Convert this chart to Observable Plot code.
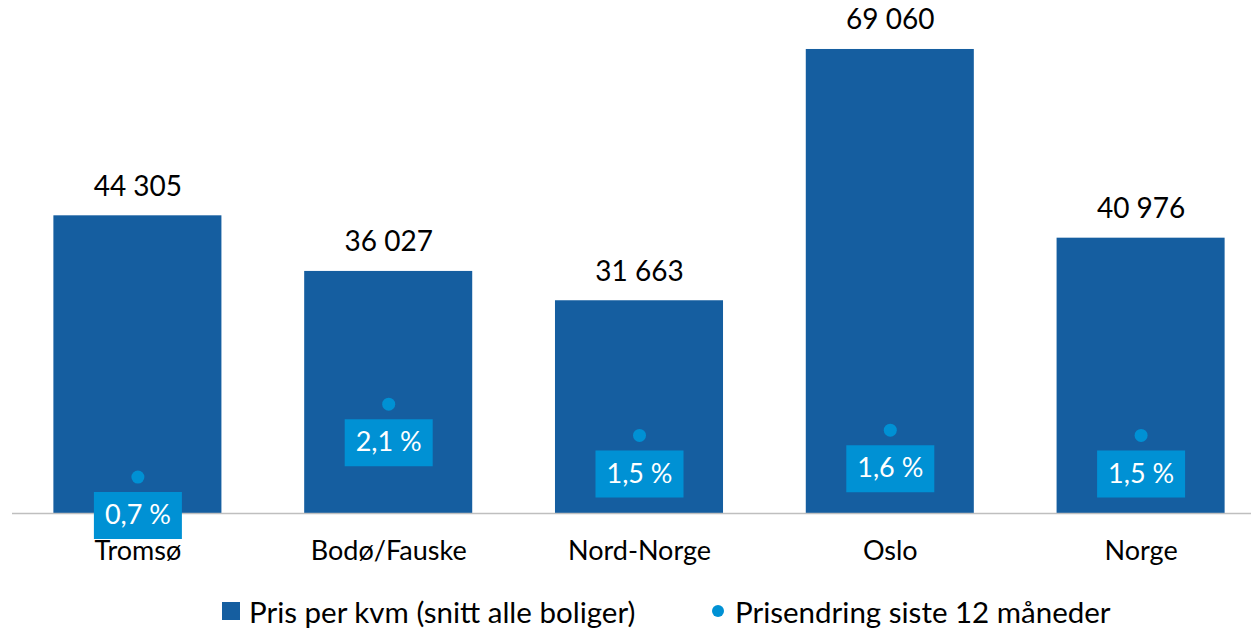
<!DOCTYPE html>
<html>
<head>
<meta charset="utf-8">
<script src="https://cdn.jsdelivr.net/npm/d3@7"></script>
<script src="https://cdn.jsdelivr.net/npm/@observablehq/plot@0.6"></script>
<style>
  html, body { margin: 0; padding: 0; background: #fff; overflow: hidden; }
  body { width: 1251px; height: 632px; font-family: Lato, "Noto Sans", sans-serif; }
  #legend { position: relative; height: 42px; font-size: 29.5px; color: #000; }
  .item { position: absolute; top: 0; height: 42px; display: flex; align-items: center; white-space: nowrap; }
  .sw-sq { width: 18px; height: 18px; background: #155EA0; margin-right: 9px; }
  .sw-dot { width: 12px; height: 12px; border-radius: 50%; background: #0091D4; margin-right: 11px; }
</style>
</head>
<body>
<div id="chart"></div>
<div id="legend">
  <div class="item" style="left:222px"><span class="sw-sq"></span><span>Pris per kvm (snitt alle boliger)</span></div>
  <div class="item" style="left:712px"><span class="sw-dot"></span><span>Prisendring siste 12 måneder</span></div>
</div>
<script>
const categories = ["Tromsø", "Bodø/Fauske", "Nord-Norge", "Oslo", "Norge"];
const prices = [44305, 36027, 31663, 69060, 40976];
const changes = [0.7, 2.1, 1.5, 1.6, 1.5];

const priceAxisMax = 76350;   // primary axis top
const changeAxisMax = 9.85;   // secondary axis top (%)

const nb = d3.formatLocale({decimal: ",", thousands: " ", grouping: [3], currency: ["", " kr"]});
const fmtPrice = nb.format(",d");
const fmtPct = v => nb.format(".1f")(v) + " %";

const data = categories.map((c, i) => ({
  cat: c,
  price: prices[i],
  change: changes[i],
  changeY: changes[i] / changeAxisMax * priceAxisMax
}));

const boxSymbol = { draw(ctx) { ctx.rect(-44, -23.5, 88, 47); } };

const barColor = "#155EA0";
const dotColor = "#0091D4";
const font = "Lato, 'Noto Sans', sans-serif";

const chart = Plot.plot({
  width: 1251,
  height: 590,
  marginTop: 0,
  marginBottom: 77,
  marginLeft: 12,
  marginRight: 0,
  style: { fontFamily: font, background: "white", overflow: "visible" },
  x: { domain: categories, range: [12, 1266], paddingInner: 0.33, paddingOuter: 0.165, round: false, axis: null },
  y: { domain: [0, priceAxisMax], axis: null },
  marks: [
    Plot.barY(data, { x: "cat", y: "price", fill: barColor }),
    Plot.ruleY([0], { stroke: "#BFBFBF", strokeWidth: 1.5 }),
    Plot.text(data, { x: "cat", y: "price", text: d => fmtPrice(d.price), dy: -29, fontSize: 28, fill: "#000", lineAnchor: "middle" }),
    Plot.dot(data, { x: "cat", y: "changeY", r: 6.5, fill: dotColor, stroke: null }),
    Plot.dot(data, { x: "cat", y: "changeY", dy: 38.5, symbol: boxSymbol, fill: dotColor, stroke: null }),
    Plot.text(data, { x: "cat", y: "changeY", dy: 38.5, text: d => fmtPct(d.change), fill: "white", fontSize: 27, lineAnchor: "middle" }),
    Plot.text(categories, { x: d => d, frameAnchor: "bottom", dy: 38, text: d => d, fontSize: 27, fill: "#000", lineAnchor: "middle" })
  ]
});
document.getElementById("chart").appendChild(chart);
</script>
</body>
</html>
